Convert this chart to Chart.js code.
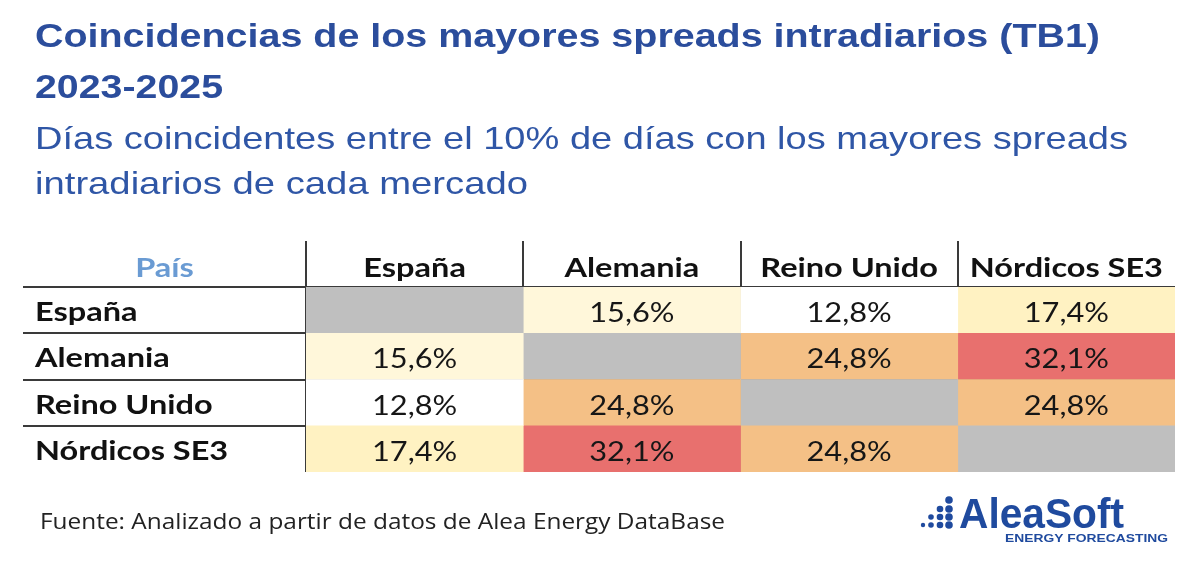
<!DOCTYPE html>
<html>
<head>
<meta charset="utf-8">
<script src="https://cdn.jsdelivr.net/npm/chart.js@4.4.1/dist/chart.umd.min.js"></script>
<style>
  body { margin: 0; background: #fff; }
  canvas { display: block; }
</style>
</head>
<body>
<canvas id="tableChart" width="1200" height="576"></canvas>
<script>
// filas y columnas de la tabla
const rowLabels = ['España', 'Alemania', 'Reino Unido', 'Nórdicos SE3'];
const colLabels = ['España', 'Alemania', 'Reino Unido', 'Nórdicos SE3'];

// % de días coincidentes, una lista por columna (null = diagonal)
const colEspana = [null, 15.6, 12.8, 17.4];
const colAlemania = [15.6, null, 24.8, 32.1];
const colReinoUnido = [12.8, 24.8, null, 24.8];
const colNordicos = [17.4, 32.1, 24.8, null];

const columns = [colEspana, colAlemania, colReinoUnido, colNordicos];

const lineColor = '#3a3a3a';
const emptyColor = '#bfbfbf';
const titleBlue = '#2b4d9c';
const subBlue = '#2f56a6';

// escala de color tipo Excel: blanco -> amarillo -> naranja -> rojo
const colorStops = [
    [0, [255, 255, 255]],
    [0.24, [255, 242, 194]],
    [0.62, [244, 192, 134]],
    [1, [232, 112, 110]]
];

const allValues = columns.flat().filter(v => v !== null);
const minVal = Math.min(...allValues);
const maxVal = Math.max(...allValues);

function cellColor(v) {
    if (v === null) return emptyColor;
    const t = (v - minVal) / (maxVal - minVal);
    for (let i = 1; i < colorStops.length; i++) {
        const [t0, c0] = colorStops[i - 1];
        const [t1, c1] = colorStops[i];
        if (t <= t1) {
            const f = (t - t0) / (t1 - t0);
            const c = c0.map((a, k) => Math.round(a + (c1[k] - a) * f));
            return `rgb(${c[0]}, ${c[1]}, ${c[2]})`;
        }
    }
    return `rgb(${colorStops[colorStops.length - 1][1].join(',')})`;
}

function formatPct(v) {
    return v.toFixed(1).replace('.', ',') + '%';
}

// texto ajustado a un ancho dado (el original está estirado en horizontal)
function fitText(ctx, text, x, y, width, font, color) {
    ctx.save();
    ctx.font = font;
    ctx.fillStyle = color;
    ctx.textAlign = 'left';
    ctx.textBaseline = 'alphabetic';
    const w = ctx.measureText(text).width;
    ctx.translate(x, y);
    ctx.scale(width / w, 1);
    ctx.fillText(text, 0, 0);
    ctx.restore();
}

// texto con un factor de estiramiento fijo
function stretchText(ctx, text, x, y, sx, font, color, align) {
    ctx.save();
    ctx.font = font;
    ctx.fillStyle = color;
    ctx.textAlign = align;
    ctx.textBaseline = 'alphabetic';
    ctx.translate(x, y);
    ctx.scale(sx, 1);
    ctx.fillText(text, 0, 0);
    ctx.restore();
}

const datasets = columns.map((col, c) => ({
    label: colLabels[c],
    data: rowLabels.map(() => [c, c + 1]),
    backgroundColor: ctx => cellColor(col[ctx.dataIndex]),
    borderWidth: 0,
    barPercentage: 1,
    categoryPercentage: 1,
    grouped: false
}));

const gridColor = ctx => ctx.type === 'tick' ? lineColor : 'rgba(0,0,0,0)';

const labelFont = 'bold 26px Lato';
const labelStretch = 1.25;
const valueFont = '27px Lato';
const valueStretch = 1.14;

const textPlugin = {
    id: 'tableText',
    afterDraw(chart) {
        const ctx = chart.ctx;
        const xTop = chart.scales.xTop;
        const y = chart.scales.y;

        // cabeceras de columna
        xTop.ticks.forEach((t, i) => {
            stretchText(ctx, xTop.getLabelForValue(t.value), xTop.getPixelForTick(i), 277,
                labelStretch, labelFont, '#111', 'center');
        });
        stretchText(ctx, 'País', (y.left - 10 + chart.chartArea.left) / 2, 277,
            labelStretch, labelFont, '#6a9bd3', 'center');

        // etiquetas de fila
        y.ticks.forEach((t, i) => {
            stretchText(ctx, y.getLabelForValue(t.value), y.left + 2, y.getPixelForTick(i) + 11,
                labelStretch, labelFont, '#111', 'left');
        });

        // valores dentro de las celdas
        chart.data.datasets.forEach((ds, c) => {
            chart.getDatasetMeta(c).data.forEach((bar, i) => {
                const v = columns[c][i];
                if (v === null) return;
                stretchText(ctx, formatPct(v), (bar.x + bar.base) / 2, bar.y + 12,
                    valueStretch, valueFont, '#161616', 'center');
            });
        });

        // títulos
        fitText(ctx, 'Coincidencias de los mayores spreads intradiarios (TB1)', 35, 47, 1065, 'bold 34px "Liberation Sans"', titleBlue);
        fitText(ctx, '2023-2025', 35, 98, 188, 'bold 34px "Liberation Sans"', titleBlue);
        fitText(ctx, 'Días coincidentes entre el 10% de días con los mayores spreads', 35, 149, 1093, '32px "Liberation Sans"', subBlue);
        fitText(ctx, 'intradiarios de cada mercado', 35, 194, 493, '32px "Liberation Sans"', subBlue);

        // fuente
        fitText(ctx, 'Fuente: Analizado a partir de datos de Alea Energy DataBase', 40, 529, 685, '21px "Open Sans"', '#222');

        // logo
        const logoBlue = '#1f4a9e';
        ctx.save();
        ctx.fillStyle = logoBlue;
        const dots = [
            [923, 525, 2.2],
            [931, 517, 2.8], [931, 525, 2.8],
            [940, 509, 3.3], [940, 517, 3.3], [940, 525, 3.3],
            [949, 500, 3.8], [949, 509, 3.8], [949, 517, 3.8], [949, 525, 3.8]
        ];
        dots.forEach(([x, yy, r]) => {
            ctx.beginPath();
            ctx.arc(x, yy, r, 0, Math.PI * 2);
            ctx.fill();
        });
        ctx.restore();
        fitText(ctx, 'AleaSoft', 959, 528, 165, 'bold 42px "Liberation Sans"', logoBlue);
        fitText(ctx, 'ENERGY FORECASTING', 1005, 542, 163, 'bold 10px "Liberation Sans"', logoBlue);
    }
};

new Chart(document.getElementById('tableChart'), {
    type: 'bar',
    data: {
        labels: rowLabels,
        datasets: datasets
    },
    options: {
        indexAxis: 'y',
        responsive: false,
        animation: false,
        layout: {
            padding: { left: 33, right: 25, top: 241, bottom: 104 }
        },
        plugins: {
            legend: { display: false },
            tooltip: { enabled: false },
            title: { display: false }
        },
        scales: {
            x: {
                type: 'linear',
                min: 0,
                max: columns.length,
                display: false
            },
            xTop: {
                type: 'category',
                labels: colLabels,
                position: 'top',
                offset: true,
                z: 1,
                border: { display: false },
                grid: {
                    offset: true,
                    color: gridColor,
                    lineWidth: 2,
                    tickLength: 46
                },
                ticks: { display: false, autoSkip: false },
                afterFit: scale => { scale.height = 46; }
            },
            y: {
                type: 'category',
                offset: true,
                z: 1,
                border: { display: false },
                grid: {
                    offset: true,
                    color: gridColor,
                    lineWidth: 2,
                    tickLength: 283
                },
                ticks: { display: false, autoSkip: false },
                afterFit: scale => { scale.width = 273; }
            }
        }
    },
    plugins: [textPlugin]
});
</script>
</body>
</html>
